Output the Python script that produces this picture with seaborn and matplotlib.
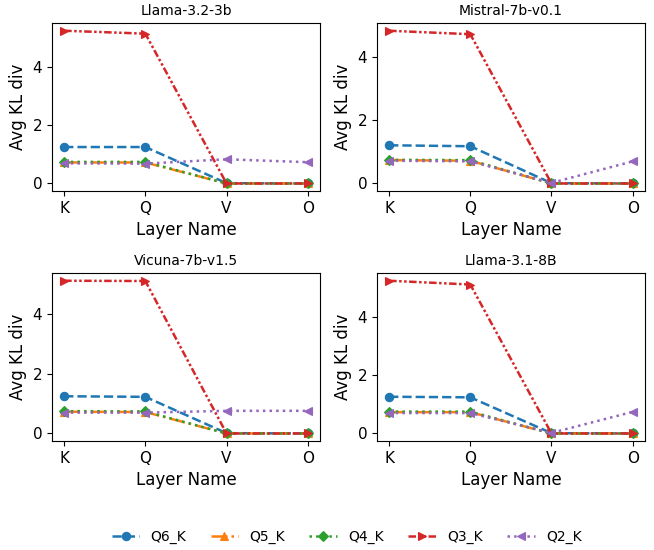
import matplotlib
matplotlib.use("Agg")
import matplotlib.pyplot as plt
import seaborn as sns
import pandas as pd

layers = ["K", "Q", "V", "O"]
models = ["Llama-3.2-3b", "Mistral-7b-v0.1", "Vicuna-7b-v1.5", "Llama-3.1-8B"]
series = ["Q6_K", "Q5_K", "Q4_K", "Q3_K", "Q2_K"]

llama32_3b = {
    "Q6_K": [1.25, 1.25, 0.01, 0.0],
    "Q5_K": [0.72, 0.72, 0.0, 0.0],
    "Q4_K": [0.74, 0.74, 0.0, 0.0],
    "Q3_K": [5.24, 5.14, 0.0, 0.0],
    "Q2_K": [0.69, 0.68, 0.83, 0.73],
}
mistral_7b = {
    "Q6_K": [1.21, 1.18, 0.01, 0.0],
    "Q5_K": [0.74, 0.72, 0.0, 0.0],
    "Q4_K": [0.75, 0.74, 0.0, 0.0],
    "Q3_K": [4.84, 4.73, 0.0, 0.0],
    "Q2_K": [0.72, 0.70, 0.02, 0.70],
}
vicuna_7b = {
    "Q6_K": [1.25, 1.23, 0.01, 0.0],
    "Q5_K": [0.73, 0.72, 0.0, 0.0],
    "Q4_K": [0.75, 0.74, 0.0, 0.0],
    "Q3_K": [5.13, 5.12, 0.0, 0.0],
    "Q2_K": [0.70, 0.70, 0.76, 0.76],
}
llama31_8b = {
    "Q6_K": [1.26, 1.24, 0.01, 0.0],
    "Q5_K": [0.73, 0.73, 0.0, 0.0],
    "Q4_K": [0.75, 0.75, 0.0, 0.0],
    "Q3_K": [5.24, 5.11, 0.0, 0.0],
    "Q2_K": [0.70, 0.70, 0.02, 0.74],
}
model_data = [llama32_3b, mistral_7b, vicuna_7b, llama31_8b]

colors = ["#1f77b4", "#ff7f0e", "#2ca02c", "#d62728", "#9467bd"]
markers = ["o", "^", "D", ">", "<"]
styles = ["--", "-.", ":", (0, (3, 1, 1, 1, 1, 1)), ":"]

fig, axes = plt.subplots(2, 2, figsize=(6.54, 5.5), dpi=100)
plt.subplots_adjust(left=0.0795, right=0.986, top=0.958, bottom=0.198,
                    wspace=0.213, hspace=0.488)

for ax, name, data in zip(axes.flat, models, model_data):
    for s, c, m, ls in zip(series, colors, markers, styles):
        df = pd.DataFrame({"Layer": layers, "KL": data[s]})
        msize = 5 if m == "D" else 6
        sns.lineplot(data=df, x="Layer", y="KL", ax=ax, sort=False, color=c,
                     marker=m, markersize=msize, linestyle=ls, linewidth=1.8,
                     markeredgecolor=c, markeredgewidth=0.8, label=s, legend=False)
    ax.set_title(name, fontsize=10)
    ax.set_xlabel("Layer Name", fontsize=12)
    ax.set_ylabel("Avg KL div", fontsize=12)
    ax.tick_params(labelsize=11)

handles, labels = axes.flat[0].get_legend_handles_labels()
fig.legend(handles, labels, loc="lower center", ncol=5, frameon=False,
           fontsize=10, columnspacing=1.75, bbox_to_anchor=(0.53, -0.012))

fig.savefig("out.png", dpi=100)
